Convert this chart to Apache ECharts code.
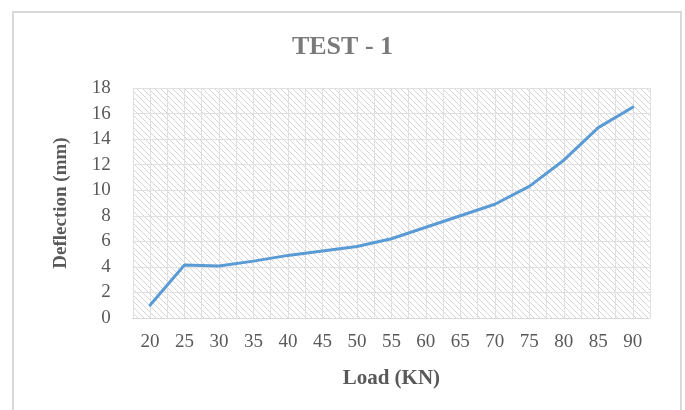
<!DOCTYPE html>
<html>
<head>
<meta charset="utf-8">
<script src="https://cdn.jsdelivr.net/npm/echarts@6/dist/echarts.min.js"></script>
<style>
  html, body { margin: 0; padding: 0; background: #fff; }
  #chart { width: 685px; height: 410px; }
</style>
</head>
<body>
<div id="chart"></div>
<script>
// Load steps (KN) and measured deflection (mm)
const loads = ['20', '25', '30', '35', '40', '45', '50', '55', '60', '65', '70', '75', '80', '85', '90'];
const deflection = [1.0, 4.15, 4.07, 4.45, 4.9, 5.25, 5.6, 6.2, 7.1, 8.0, 8.9, 10.3, 12.35, 14.9, 16.5];
const yTicks = [0, 2, 4, 6, 8, 10, 12, 14, 16, 18];

// Diagonal hatch tile for the plot background
function hatchTile() {
  const c = document.createElement('canvas');
  c.width = 6; c.height = 6;
  const g = c.getContext('2d');
  g.fillStyle = '#ffffff';
  g.fillRect(0, 0, 6, 6);
  g.strokeStyle = '#d6d6d6';
  g.lineWidth = 1;
  g.beginPath();
  g.moveTo(-1, -1); g.lineTo(7, 7);
  g.moveTo(-1, 5); g.lineTo(1, 7);
  g.moveTo(5, -1); g.lineTo(7, 1);
  g.stroke();
  return c;
}

const serif = '"Liberation Serif", "Times New Roman", serif';
const chart = echarts.init(document.getElementById('chart'), null, { renderer: 'canvas' });

chart.setOption({
  animation: false,
  backgroundColor: '#ffffff',
  title: {
    text: 'TEST - 1',
    left: 'center',
    top: 29,
    textStyle: { fontFamily: serif, fontWeight: 'bold', fontSize: 26, color: '#7a7a7a' }
  },
  graphic: [{
    type: 'rect',
    shape: { x: 13, y: 12, width: 668, height: 410 },
    style: { fill: 'none', stroke: '#d9d9d9', lineWidth: 2 },
    silent: true,
    z: -1
  }],
  grid: {
    left: 132.75, right: 35, top: 88, bottom: 92,
    show: true,
    borderWidth: 0,
    backgroundColor: { image: hatchTile(), repeat: 'repeat' }
  },
  xAxis: [{
    type: 'category',
    data: loads,
    boundaryGap: true,
    name: 'Load (KN)',
    nameLocation: 'middle',
    nameGap: 50,
    nameTextStyle: { fontFamily: serif, fontWeight: 'bold', fontSize: 21, color: '#595959' },
    axisLine: { show: true, lineStyle: { color: '#d9d9d9', width: 1 } },
    axisTick: { show: false },
    axisLabel: { fontFamily: serif, fontSize: 19, color: '#595959', margin: 15, interval: 0 },
    splitLine: { show: false }
  }, {
    // half-step grid for the vertical lines of the plot area
    type: 'value',
    min: 0, max: 30, interval: 1,
    position: 'bottom',
    axisLine: { show: false },
    axisTick: { show: false },
    axisLabel: { show: false },
    splitLine: { show: true, lineStyle: { color: '#e0e0e0', width: 1 } }
  }],
  yAxis: {
    type: 'value',
    min: yTicks[0],
    max: yTicks[yTicks.length - 1],
    interval: 2,
    name: 'Deflection (mm)',
    nameLocation: 'middle',
    nameGap: 62,
    nameRotate: 90,
    nameTextStyle: { fontFamily: serif, fontWeight: 'bold', fontSize: 19, color: '#595959' },
    axisLine: { show: false },
    axisTick: { show: false },
    axisLabel: { fontFamily: serif, fontSize: 19, color: '#595959', margin: 22 },
    splitLine: { show: true, lineStyle: { color: '#e0e0e0', width: 1 } }
  },
  series: [{
    type: 'line',
    xAxisIndex: 0,
    data: deflection,
    showSymbol: false,
    symbol: 'none',
    lineStyle: { color: '#5b9bd5', width: 3, join: 'round', cap: 'round' },
    z: 5
  }]
});
</script>
</body>
</html>
